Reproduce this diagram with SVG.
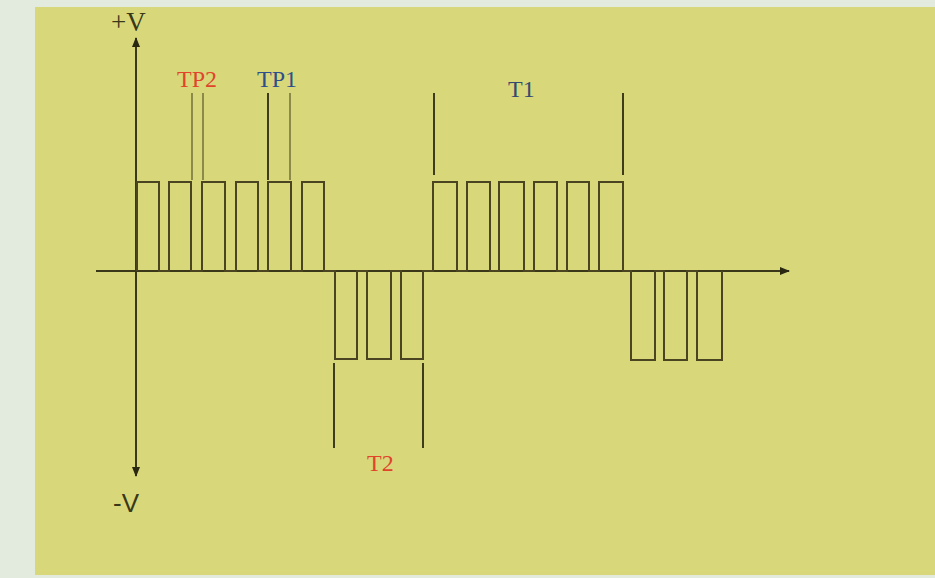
<svg xmlns="http://www.w3.org/2000/svg" width="935" height="578" viewBox="0 0 935 578">
<style>
.ax{stroke:#3a3818;stroke-width:2;fill:none}
.wave{stroke:#4a4520;stroke-width:2;fill:none;stroke-linejoin:miter}
.mk{stroke:#3f3c1c;stroke-width:2}
.mkl{stroke:#8c8a4a;stroke-width:2}
.lbl{font-family:"Liberation Serif",serif;font-size:24px}
</style>
<defs>
<marker id="ah" viewBox="0 0 10 10" refX="9" refY="5" markerWidth="5" markerHeight="5" orient="auto-start-reverse" markerUnits="strokeWidth">
<path d="M0,1 L10,5 L0,9 z" fill="#2a2810"/>
</marker>
</defs>
<rect x="0" y="0" width="935" height="578" fill="#e3ebde"/>
<rect x="35" y="7" width="900" height="568" fill="#d8d87b"/>
<g id="connectors">
<line class="ax" x1="136" y1="476" x2="136" y2="38" marker-end="url(#ah)" marker-start="url(#ah)"/>
<line class="ax" x1="96" y1="271" x2="789" y2="271" marker-end="url(#ah)"/>
<polyline class="wave" points="137,271 137,182 159,182 159,271 169,271 169,182 191,182 191,271 202,271 202,182 225,182 225,271 236,271 236,182 258,182 258,271 268,271 268,182 291,182 291,271 302,271 302,182 324,182 324,271 335,271 335,359 357,359 357,271 367,271 367,359 391,359 391,271 401,271 401,359 423,359 423,271 433,271 433,182 457,182 457,271 467,271 467,182 490,182 490,271 499,271 499,182 524,182 524,271 534,271 534,182 557,182 557,271 567,271 567,182 589,182 589,271 599,271 599,182 623,182 623,271 631,271 631,360 655,360 655,271 664,271 664,360 687,360 687,271 697,271 697,360 722,360 722,271"/>
</g>
<g id="tp2">
<line class="mkl" x1="192" y1="93" x2="192" y2="180"/>
<line class="mkl" x1="203" y1="93" x2="203" y2="180"/>
<text class="lbl" x="177" y="87" fill="#e0452c">TP2</text>
</g>
<g id="tp1">
<line class="mk" x1="268" y1="93" x2="268" y2="180"/>
<line class="mkl" x1="290" y1="93" x2="290" y2="180"/>
<text class="lbl" x="257" y="87" fill="#2f4f8a">TP1</text>
</g>
<g id="t1">
<line class="mk" x1="434" y1="93" x2="434" y2="175"/>
<line class="mk" x1="623" y1="93" x2="623" y2="175"/>
<text class="lbl" x="508" y="97" fill="#344a6e">T1</text>
</g>
<g id="t2">
<line class="mk" x1="334" y1="363" x2="334" y2="448"/>
<line class="mk" x1="423" y1="363" x2="423" y2="448"/>
<text class="lbl" x="367" y="471" fill="#e0452c">T2</text>
</g>
<g id="plusv">
<text x="111" y="31" font-family="Liberation Serif,serif" font-size="27" fill="#3a3818">+V</text>
</g>
<g id="minusv">
<text x="113" y="512" font-family="Liberation Sans,sans-serif" font-size="26" fill="#3a3818">-V</text>
</g>
</svg>
